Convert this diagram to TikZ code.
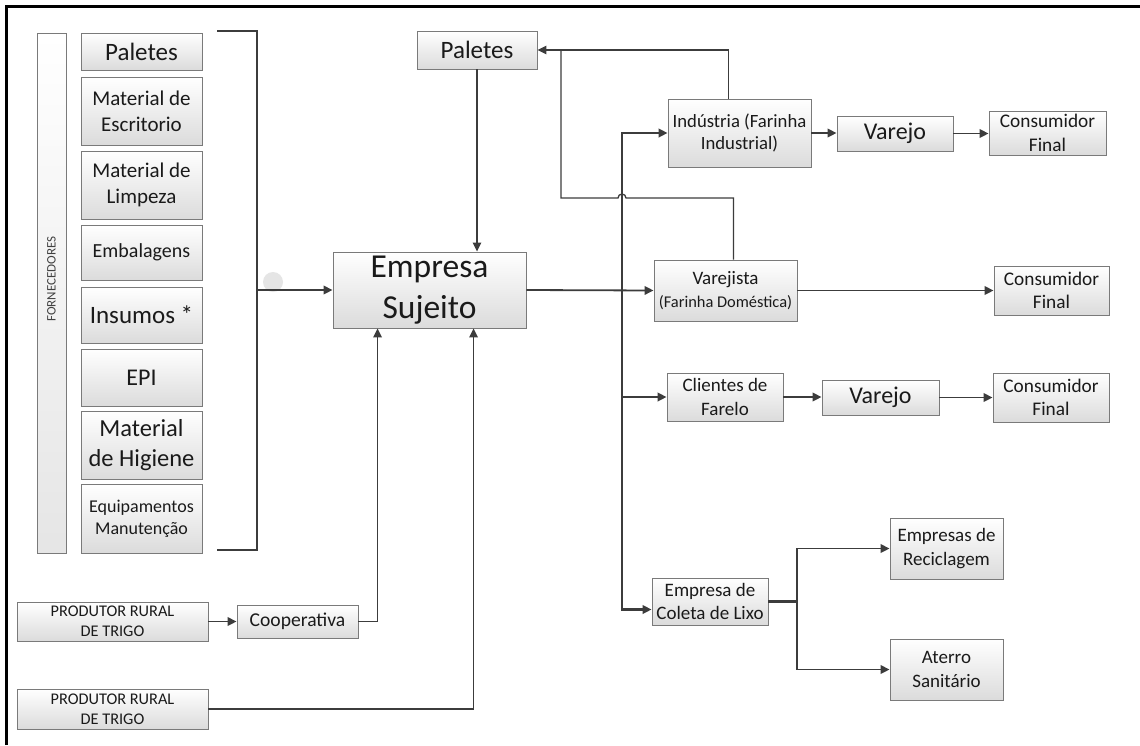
\documentclass[tikz,border=0pt]{standalone}
\usepackage{fontspec}
\setmainfont{Carlito}
\usetikzlibrary{arrows.meta,shadows,calc}
\definecolor{lineg}{HTML}{3C3C3C}
\definecolor{boxg}{HTML}{7A7A7A}
\definecolor{txt}{HTML}{1A1A1A}
\newcommand\fs[1]{\fontsize{#1pt}{\the\dimexpr#1pt*61/50\relax}\selectfont}
% \mkbox{name}{x1}{y1}{x2}{y2}{font size}{text}
\newcommand\mkbox[7]{%
  \node[box, minimum width={(#4-#2)*1pt}, minimum height={(#5-#3)*1pt},
        font=\fs{#6}] (#1) at ({(#2+#4)/2},{(#3+#5)/2}) {#7};}
\tikzset{
  box/.style={draw=boxg, line width=0.9pt, inner sep=0pt, align=center,
    text=txt, top color=white, bottom color=black!14,
    drop shadow={shadow xshift=1.2pt, shadow yshift=-1.2pt, fill=black!25, opacity=0.6}},
  tip/.style={-{Triangle[length=9pt,width=8.5pt]}},
  link/.style={draw=lineg, line width=1.8pt},
  arr/.style={link, tip},
  thinlink/.style={draw=lineg, line width=1.3pt},
  trunk/.style={draw=lineg, line width=2.8pt}
}
\begin{document}
\begin{tikzpicture}[x=1pt,y=-1pt]
\useasboundingbox (0,0) rectangle (1140,745);
\fill[white] (0,0) rectangle (1140,745);
% frame edges
\draw[line width=3pt, black] (6,745) -- (6,6) -- (1140,6);

% suppliers column
\node[draw=boxg, line width=0.9pt, top color=white, bottom color=black!10,
  minimum width=29pt, minimum height=520pt, inner sep=0pt] (forn) at (51.5,293) {};
\node[rotate=90, font=\fs{13}, text=black!75] (fornt) at (51.5,279) {FORNECEDORES};
\mkbox{pal1}{81}{33}{202}{70}{25}{Paletes}
\mkbox{mesc}{81}{77}{202}{145}{21}{Material de\\Escritorio}
\mkbox{mlim}{81}{151}{202}{219}{21}{Material de\\Limpeza}
\mkbox{emb}{81}{225}{202}{280}{20}{Embalagens}
\mkbox{ins}{81}{287}{202}{343}{25}{Insumos *}
\mkbox{epi}{81}{349}{202}{406}{24}{EPI}
\mkbox{mhig}{81}{411}{202}{479}{24.5}{Material\\de Higiene}
\mkbox{equi}{81}{484}{202}{553}{18}{Equipamentos\\Manutenção}

% bracket grouping the suppliers
\draw[thinlink, line width=1.9pt] (217,31) -- (257,31) coordinate (brt) -- (257,550) coordinate (brb) -- (217,550);
\coordinate (brm) at (257,290);
\fill[black!10] (273,282) circle (10pt);

% central company
\mkbox{emp}{333}{252}{526}{328}{33.5}{Empresa\\Sujeito}
\mkbox{pal2}{417}{31}{537}{69}{25}{Paletes}

% customers
\mkbox{ind}{668}{99}{811}{167}{18.7}{Indústria (Farinha\\Industrial)}
\mkbox{var1}{837}{116}{953}{151}{24}{Varejo}
\mkbox{cf1}{989}{111}{1106}{155}{19.3}{Consumidor\\Final}
\mkbox{varj}{654}{260}{797}{321}{19}{Varejista\\{\fs{16.4}(Farinha Doméstica)}}
\mkbox{cf2}{994}{266}{1109}{315}{19.3}{Consumidor\\Final}
\mkbox{cli}{667}{373}{783}{421}{19}{Clientes de\\Farelo}
\mkbox{var2}{822}{380}{939}{415}{24}{Varejo}
\mkbox{cf3}{993}{373}{1109}{422}{19.3}{Consumidor\\Final}
\mkbox{col}{652}{578}{768}{625}{19}{Empresa de\\Coleta de Lixo}
\mkbox{rec}{890}{518}{1003}{579}{19}{Empresas de\\Reciclagem}
\mkbox{ate}{890}{639}{1003}{700}{19}{Aterro\\Sanitário}

% raw material
\mkbox{prod1}{17}{602}{208}{641}{16.3}{PRODUTOR RURAL\\DE TRIGO}
\mkbox{coop}{237}{605}{358}{638}{19.6}{Cooperativa}
\mkbox{prod2}{17}{689}{208}{729}{16.3}{PRODUTOR RURAL\\DE TRIGO}

% supplies into the company
\draw[arr] (brm) -- (emp.west);
\draw[thinlink, tip] (pal2.south) -- (pal2.south |- emp.north);
\draw[arr] (prod1.east) -- (coop.west);
\draw[arr] (coop.east) -| ($(emp.south west)+(45,0)$);
\draw[arr] (prod2.east) -| ($(emp.south west)+(141,0)$);

% pallets returned by customers
\coordinate (fbk) at (561,50);
\draw[thinlink, tip] ([xshift=-11pt]ind.north) |- (pal2.east);
\draw[thinlink] ([xshift=8pt]varj.north) |- (626,198)
  arc[start angle=0, end angle=180, radius=4pt] -- (561,198) -- (fbk);

% distribution trunk
\coordinate (tj) at (622,290);
\draw[trunk, tip] (tj) |- (ind.west);
\draw[trunk, tip] (tj) |- (cli.west);
\draw[trunk, tip] (tj) |- ([yshift=-8pt]col.west);
\draw[arr] (emp.east) -- (varj.west);

% downstream flows
\draw[arr] (ind.east) -- (ind.east -| var1.west);
\draw[arr] (var1.east) -- (var1.east -| cf1.west);
\draw[arr] (varj.east) -- (varj.east -| cf2.west);
\draw[arr] (cli.east) -- (cli.east -| var2.west);
\draw[arr] (var2.east) -- (var2.east -| cf3.west);
\coordinate (cj) at (797,601.5);
\draw[link, line width=2.4pt] (col.east) -- (cj);
\draw[arr] (cj) |- (rec.west);
\draw[arr] (cj) |- (ate.west);
\end{tikzpicture}
\end{document}
